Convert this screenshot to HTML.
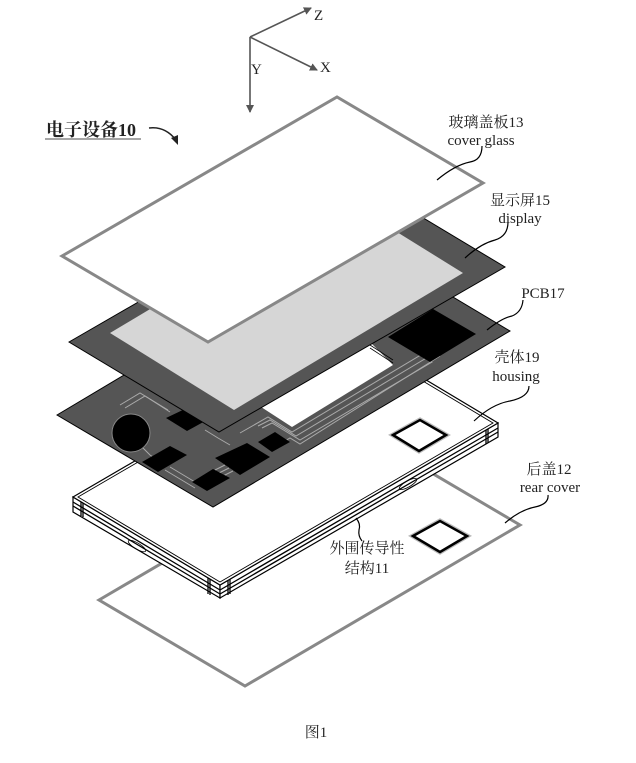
<!DOCTYPE html>
<html><head><meta charset="utf-8"><style>
html,body{margin:0;padding:0;background:#fff;}
svg{display:block}
text{font-family:"Liberation Serif","Noto Serif CJK SC","Noto Sans CJK SC",serif;fill:#222}
</style></head><body>
<svg width="636" height="763" viewBox="0 0 636 763" xmlns="http://www.w3.org/2000/svg">
<defs>
<marker id="ar" markerWidth="8" markerHeight="8" refX="7" refY="4" orient="auto" markerUnits="userSpaceOnUse"><path d="M0,0 L8,4 L0,8 Z" fill="#555"/></marker>
</defs>
<g stroke="#555" stroke-width="1.6" fill="none">
<line x1="250" y1="37" x2="311" y2="8" marker-end="url(#ar)"/>
<line x1="250" y1="37" x2="317" y2="70" marker-end="url(#ar)"/>
<line x1="250" y1="37" x2="250" y2="112" marker-end="url(#ar)"/>
</g>
<text x="314" y="20" font-size="15">Z</text>
<text x="320" y="72" font-size="15">X</text>
<text x="251" y="74" font-size="15">Y</text>

<text x="46" y="136" font-size="18" font-weight="bold">电子设备10</text>
<line x1="45" y1="139" x2="141" y2="139" stroke="#888" stroke-width="1.5"/>
<path d="M149,128 Q165,126 176,140" stroke="#222" stroke-width="1.5" fill="none"/>
<path d="M171,138 L178,145 L178,135 Z" fill="#222"/>

<polygon points="99,600 374,439 520,525 245,686" fill="#fff" stroke="#888" stroke-width="3"/>
<polygon points="413,536 440,521 467,536 440,552" fill="#fff" stroke="#bbb" stroke-width="5"/>
<polygon points="413,536 440,521 467,536 440,552" fill="#fff" stroke="#000" stroke-width="2.5"/>

<polygon points="73,497 220,585 220,598 73,512" fill="#fff" stroke="#000" stroke-width="1.2"/>
<polygon points="220,585 498,423 498,437 220,598" fill="#fff" stroke="#000" stroke-width="1.2"/>
<g stroke="#000" stroke-width="1.3" fill="none">
<line x1="73" y1="502" x2="220" y2="590"/>
<line x1="73" y1="506" x2="220" y2="594"/>
<line x1="220" y1="590" x2="498" y2="428"/>
<line x1="220" y1="594" x2="498" y2="432"/>
<line x1="81" y1="500" x2="81" y2="516"/><line x1="83" y1="501" x2="83" y2="517"/>
<line x1="208" y1="578" x2="208" y2="594"/><line x1="210" y1="579" x2="210" y2="595"/>
<line x1="228" y1="580" x2="228" y2="595"/><line x1="230" y1="579" x2="230" y2="594"/>
<line x1="486" y1="430" x2="486" y2="444"/><line x1="488" y1="429" x2="488" y2="443"/>
</g>
<ellipse cx="137" cy="546" rx="10" ry="3" transform="rotate(31 137 546)" fill="none" stroke="#000" stroke-width="0.8"/>
<ellipse cx="408" cy="484" rx="10" ry="3" transform="rotate(-30 408 484)" fill="none" stroke="#000" stroke-width="0.8"/>
<polygon points="73,497 351,335 498,423 220,585" fill="#fff" stroke="#000" stroke-width="1.2"/>
<polygon points="78,497 351,338 493,423 220,582" fill="none" stroke="#000" stroke-width="0.9"/>
<polygon points="393,435 420,420 446,435 419,451" fill="#fff" stroke="#bbb" stroke-width="5"/>
<polygon points="393,435 420,420 446,435 419,451" fill="#fff" stroke="#000" stroke-width="2.5"/>

<polygon points="57,415 354,238 510,331 213,507" fill="#555" stroke="#000" stroke-width="1"/>
<polygon points="258,405 292,427 393,365 366,338" fill="#fff"/>
<g stroke="#000" stroke-width="0.8"><line x1="370" y1="345" x2="393" y2="360"/><line x1="370" y1="348" x2="393" y2="363"/></g>
<g stroke="#aaa" stroke-width="1" fill="none">
<polyline points="425,356 432,362 300,440 272,423 262,428"/>
<polyline points="420,352 428,357 296,436 270,420 258,426"/>
<polyline points="415,348 424,353 292,432 268,417 240,433"/>
<polyline points="440,356 300,444 290,438 275,447"/>
<polyline points="120,405 140,393 168,410"/>
<polyline points="125,408 145,396 170,412"/>
<polyline points="135,440 150,455 165,465"/>
<polyline points="165,470 195,488"/>
<polyline points="170,467 200,485"/>
<polyline points="215,470 225,465"/><polyline points="219,473 229,468"/><polyline points="223,476 233,471"/>
<polyline points="205,430 218,438 230,445"/>
</g>
<ellipse cx="131" cy="433" rx="19" ry="19" fill="#000" stroke="#888" stroke-width="1"/>
<g fill="#000">
<polygon points="166,418 187,431 207,420 187,408"/>
<polygon points="142,462 158,472 187,455 170,446"/>
<polygon points="192,482 207,491 230,478 213,469"/>
<polygon points="215,458 240,475 270,457 247,443"/>
<polygon points="258,442 272,452 290,442 275,432"/>
<polygon points="388,337 430,362 476,334 433,309"/>
</g>

<polygon points="69,342 355,177 505,267 219,432" fill="#555" stroke="#000" stroke-width="1"/>
<polygon points="110,333 339,196 463,273 234,410" fill="#d6d6d6"/>

<polygon points="62,256 337,97 483,183 208,342" fill="#fff" stroke="#888" stroke-width="3"/>

<g stroke="#000" stroke-width="1.2" fill="none">
<path d="M437,180 Q455,165 470,162 Q482,160 482,146"/>
<path d="M465,258 Q480,244 495,240 Q508,236 508,222"/>
<path d="M487,330 Q502,318 512,316 Q522,312 523,300"/>
<path d="M474,421 Q492,404 510,401 Q529,397 529,386"/>
<path d="M505,523 Q520,510 535,507 Q549,504 548,495"/>
<path d="M356,518 Q361,524 359,530 Q358,536 362,541"/>
</g>

<g font-size="15" text-anchor="middle">
<text x="486" y="127">玻璃盖板13</text>
<text x="481" y="145">cover glass</text>
<text x="520" y="205">显示屏15</text>
<text x="520" y="223">display</text>
<text x="543" y="298">PCB17</text>
<text x="517" y="362">壳体19</text>
<text x="516" y="381">housing</text>
<text x="549" y="474">后盖12</text>
<text x="550" y="492">rear cover</text>
<text x="367" y="553">外围传导性</text>
<text x="367" y="573">结构11</text>
<text x="316" y="737">图1</text>
</g>
</svg>
</body></html>
